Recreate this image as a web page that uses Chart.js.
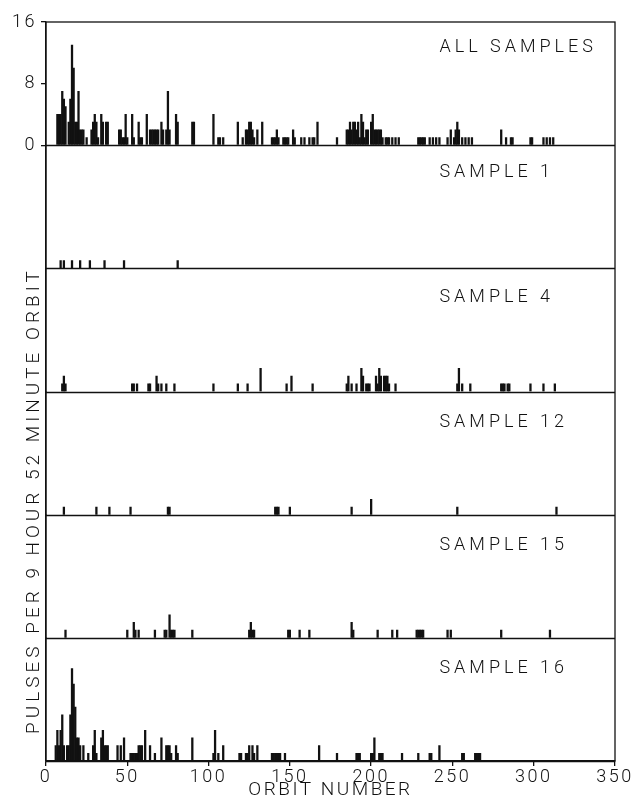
<!DOCTYPE html>
<html>
<head>
<meta charset="utf-8">
<script src="https://cdn.jsdelivr.net/npm/chart.js@4.4.1/dist/chart.umd.min.js"></script>
<style>
  html, body { margin: 0; padding: 0; background: #fff; }
</style>
</head>
<body>
<canvas id="pulseChart" width="641" height="802"></canvas>
<script>
// Pulses per orbit, [orbit number, pulses]
const allSamples = [
  [7,4],[8,4],[9,4],[10,7],[11,6],[12,5],[14,3],[15,6],[16,13],[17,10],[18,3],[19,3],[20,7],[21,2],[22,2],[23,2],[25,1],
  [28,2],[29,3],[30,4],[31,3],[32,1],[34,4],[35,3],[37,3],[38,3],
  [45,2],[46,2],[47,1],[48,1],[49,4],[50,1],[53,4],[54,1],[57,3],[58,1],[59,1],[62,4],
  [64,2],[65,2],[66,2],[67,2],[68,2],[69,2],[71,3],[72,2],[74,2],[75,7],[76,2],
  [80,4],[81,3],[90,3],[91,3],[103,4],[106,1],[107,1],[109,1],
  [118,3],[121,1],[123,2],[124,2],[125,3],[126,3],[127,2],[128,1],[130,2],[133,3],
  [139,1],[140,1],[141,1],[142,2],[143,1],[146,1],[147,1],[148,1],[149,1],
  [152,2],[153,1],[157,1],[159,1],[162,1],[164,1],[165,1],[167,3],
  [179,1],[185,2],[186,2],[187,3],[188,2],[189,3],[190,3],[191,2],[192,3],[193,1],[194,4],[195,3],[196,1],
  [197,2],[198,2],[200,3],[201,4],[202,2],[203,2],[204,2],[205,2],[206,2],[207,1],[209,1],[210,1],[211,1],
  [213,1],[215,1],[217,1],[229,1],[230,1],[231,1],[232,1],[233,1],[236,1],[238,1],[240,1],[242,1],
  [247,1],[249,2],[251,1],[252,2],[253,3],[254,2],[256,1],[258,1],[260,1],[262,1],
  [280,2],[283,1],[286,1],[287,1],[298,1],[299,1],[306,1],[308,1],[310,1],[312,1]
];
const sample1 = [[9,1],[11,1],[16,1],[21,1],[27,1],[36,1],[48,1],[81,1]];
const sample4 = [
  [10,1],[11,2],[12,1],[53,1],[54,1],[56,1],[63,1],[64,1],[68,2],[69,1],[71,1],[74,1],[79,1],
  [103,1],[118,1],[124,1],[132,3],[148,1],[151,2],[164,1],
  [185,1],[186,2],[188,1],[191,1],[194,3],[195,2],[197,1],[198,1],[199,1],[203,2],[204,1],[205,3],
  [206,2],[208,2],[209,2],[210,2],[211,1],[215,1],
  [253,1],[254,3],[256,1],[261,1],[280,1],[281,1],[282,1],[284,1],[285,1],[298,1],[306,1],[313,1]
];
const sample12 = [
  [11,1],[31,1],[39,1],[52,1],[75,1],[76,1],[141,1],[142,1],[143,1],[150,1],[188,1],[200,2],[253,1],[314,1]
];
const sample15 = [
  [12,1],[50,1],[54,2],[55,1],[57,1],[67,1],[73,1],[74,1],[76,3],[77,1],[78,1],[79,1],[90,1],
  [125,1],[126,2],[127,1],[128,1],[149,1],[150,1],[156,1],[162,1],[188,2],[189,1],[204,1],
  [213,1],[216,1],[228,1],[229,1],[230,1],[231,1],[232,1],[247,1],[249,1],[280,1],[310,1]
];
const sample16 = [
  [6,2],[7,4],[8,2],[9,4],[10,6],[11,2],[13,2],[14,2],[15,6],[16,12],[17,10],[18,7],[19,3],[20,3],[21,2],[23,2],
  [26,1],[29,2],[30,4],[31,1],[34,3],[35,4],[36,2],[37,2],[38,2],[44,2],[46,2],[48,3],
  [52,1],[53,1],[54,1],[55,1],[56,1],[57,2],[58,2],[59,2],[61,4],[64,2],[67,1],[71,3],
  [74,2],[75,2],[76,2],[77,1],[80,2],[81,1],[90,3],[103,1],[104,4],[106,1],[109,2],
  [119,1],[120,1],[123,1],[124,1],[125,2],[127,2],[128,1],[130,2],
  [139,1],[140,1],[141,1],[142,1],[143,1],[144,1],[147,1],[168,2],
  [179,1],[191,1],[192,1],[193,1],[200,1],[201,1],[202,3],[205,1],[206,1],[207,1],
  [219,1],[229,1],[236,1],[237,1],[242,2],[256,1],[257,1],[264,1],[265,1],[266,1],[267,1]
];

const panelNames = ['ALL SAMPLES', 'SAMPLE 1', 'SAMPLE 4', 'SAMPLE 12', 'SAMPLE 15', 'SAMPLE 16'];
const panelData = [allSamples, sample1, sample4, sample12, sample15, sample16];
const xTicks = [0, 50, 100, 150, 200, 250, 300, 350];
const yTicks = [0, 8, 16];
const yTitle = 'PULSES PER 9 HOUR 52 MINUTE ORBIT';
const xTitle = 'ORBIT NUMBER';

const ink = '#111';
const fontFamily = 'Roboto, "DejaVu Sans", sans-serif';

// frame, panel baselines, panel names and the vertical title
const panelDecor = {
  id: 'panelDecor',
  beforeDraw(chart) {
    chart.ctx.letterSpacing = '2.5px';
  },
  afterDatasetsDraw(chart) {
    const { ctx, chartArea: a, scales } = chart;
    ctx.save();
    ctx.strokeStyle = ink;
    ctx.lineWidth = 1.3;
    ctx.strokeRect(a.left, a.top, a.right - a.left, a.bottom - a.top);
    panelNames.forEach((n, i) => {
      const y = Math.round(scales['p' + i].getPixelForValue(0)) + 0.5;
      ctx.beginPath();
      ctx.moveTo(a.left, y);
      ctx.lineTo(a.right, y);
      ctx.stroke();
    });
    ctx.restore();
  },
  afterDraw(chart) {
    const { ctx, chartArea: a, scales } = chart;
    const labelDy = [25, 27, 29, 31, 31, 31];
    ctx.save();
    ctx.fillStyle = ink;
    ctx.font = '300 18px ' + fontFamily;
    ctx.letterSpacing = '4px';
    ctx.textAlign = 'left';
    ctx.textBaseline = 'middle';
    panelNames.forEach((n, i) => {
      ctx.fillText(n, scales.x.getPixelForValue(242), scales['p' + i].top + labelDy[i]);
    });
    ctx.translate(34, a.bottom - 27);
    ctx.rotate(-Math.PI / 2);
    ctx.font = '300 19px ' + fontFamily;
    ctx.letterSpacing = '4px';
    ctx.fillText(yTitle, 0, 0);
    ctx.restore();
  }
};

const scales = {
  x: {
    type: 'linear',
    min: 0,
    max: 350,
    offset: false,
    afterFit: s => { s.height = 41; },
    afterBuildTicks: s => { s.ticks = xTicks.map(v => ({ value: v })); },
    border: { color: ink, width: 1.3 },
    grid: { offset: false, drawOnChartArea: false, tickLength: 5, color: ink, lineWidth: 1.3 },
    ticks: { padding: 1, color: ink, maxRotation: 0, font: { family: fontFamily, size: 18, weight: '300' } },
    title: { display: true, text: xTitle, color: ink, padding: 0, font: { family: fontFamily, size: 19, weight: '300' } }
  }
};
// stacked left axes: the last one defined ends up on top
for (let i = panelData.length - 1; i >= 0; i--) {
  scales['p' + i] = {
    type: 'linear',
    position: 'left',
    stack: 'panels',
    stackWeight: 1,
    min: 0,
    max: 16,
    afterFit: s => { s.width = 46; },
    afterBuildTicks: s => { s.ticks = yTicks.map(v => ({ value: v })); },
    border: { display: true, color: ink, width: 1.3 },
    grid: { display: i === 0, drawOnChartArea: false, tickLength: 5, color: ink, lineWidth: 1.3 },
    ticks: { display: i === 0, padding: 4, color: ink, font: { family: fontFamily, size: 18, weight: '300' } }
  };
}

const datasets = panelData.map((d, i) => ({
  label: panelNames[i],
  data: d.map(p => ({ x: p[0], y: p[1] })),
  yAxisID: 'p' + i,
  xAxisID: 'x',
  backgroundColor: ink,
  borderWidth: 0,
  grouped: false,
  categoryPercentage: 1,
  barPercentage: 1
}));

new Chart(document.getElementById('pulseChart'), {
  type: 'bar',
  data: { datasets },
  options: {
    responsive: false,
    animation: false,
    layout: { padding: { top: 22, right: 26, bottom: 0, left: 0 } },
    plugins: { legend: { display: false }, tooltip: { enabled: false } },
    scales
  },
  plugins: [panelDecor]
});
</script>
</body>
</html>
